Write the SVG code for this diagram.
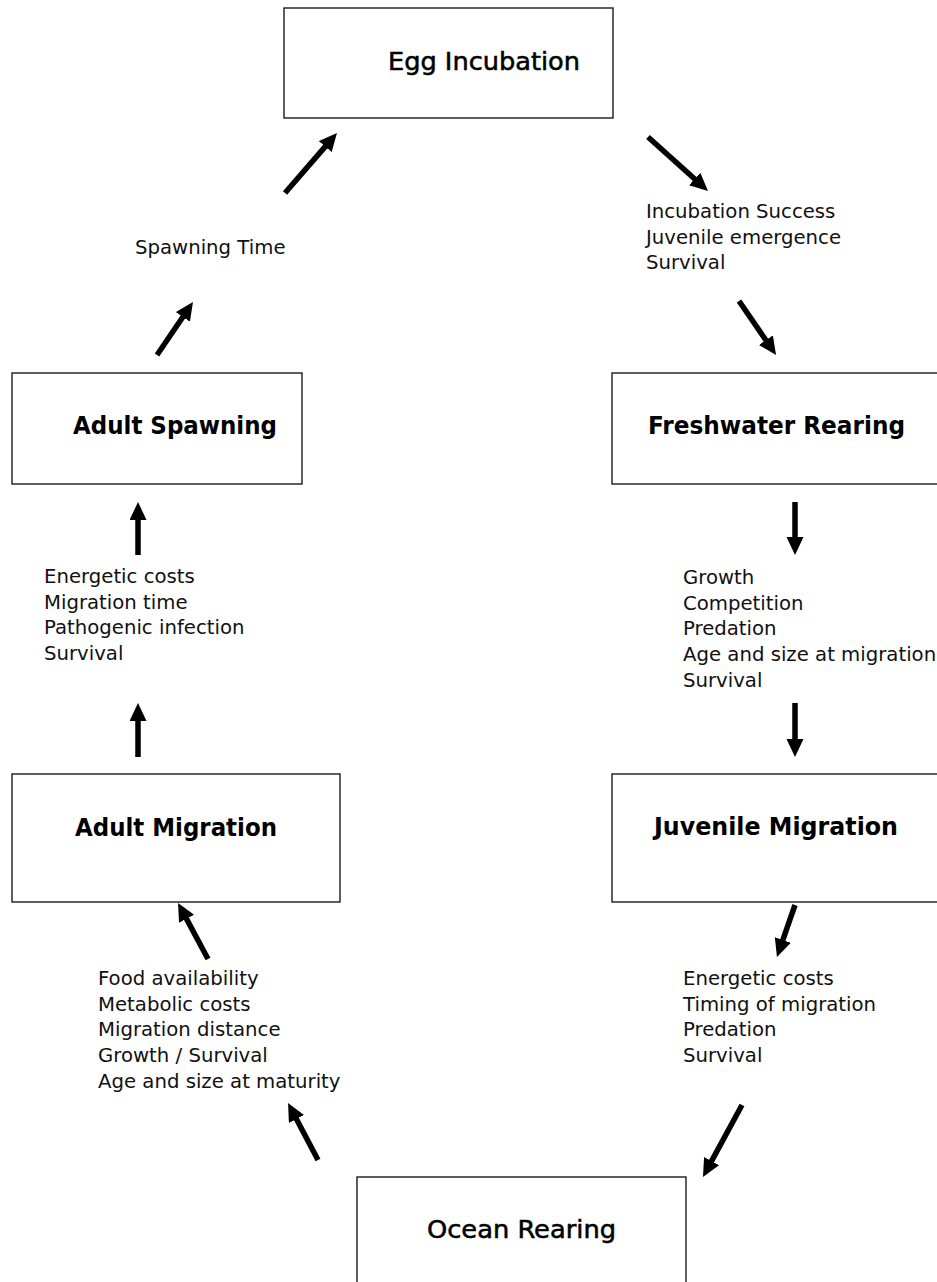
<svg xmlns="http://www.w3.org/2000/svg" width="937" height="1282" viewBox="0 0 937 1282">
<style>
.box{fill:#fff;stroke:#1a1a1a;stroke-width:1.4}
.title{font-family:"DejaVu Sans",Verdana,sans-serif;font-size:25.5px;font-weight:bold;fill:#000}
.title-light{font-family:"DejaVu Sans",Verdana,sans-serif;font-size:25.5px;font-weight:normal;fill:#000;stroke:#000;stroke-width:0.55}
.lbl{font-family:"DejaVu Sans",Verdana,sans-serif;font-size:19.7px;fill:#111}
.arr{stroke:#000;stroke-width:5.5;fill:none;marker-end:url(#head)}
</style>
<defs>
<marker id="head" markerUnits="userSpaceOnUse" markerWidth="20" markerHeight="18" refX="2" refY="8.5" orient="auto">
<path d="M0,0 L18,8.5 L0,17 z" fill="#000"/>
</marker>
</defs>
<rect width="937" height="1282" fill="#fff"/>

<g id="egg-incubation">
<rect class="box" x="284" y="8" width="329" height="110"/>
<text class="title-light" x="388" y="70" textLength="192" lengthAdjust="spacingAndGlyphs">Egg Incubation</text>
</g>
<g id="adult-spawning">
<rect class="box" x="12" y="373" width="290" height="111"/>
<text class="title" x="73" y="434" textLength="204" lengthAdjust="spacingAndGlyphs">Adult Spawning</text>
</g>
<g id="freshwater-rearing">
<rect class="box" x="612" y="373" width="340" height="111"/>
<text class="title" x="648" y="434" textLength="257" lengthAdjust="spacingAndGlyphs">Freshwater Rearing</text>
</g>
<g id="adult-migration">
<rect class="box" x="12" y="774" width="328" height="128"/>
<text class="title" x="75" y="836" textLength="202" lengthAdjust="spacingAndGlyphs">Adult Migration</text>
</g>
<g id="juvenile-migration">
<rect class="box" x="612" y="774" width="340" height="128"/>
<text class="title" x="654" y="835" textLength="244" lengthAdjust="spacingAndGlyphs">Juvenile Migration</text>
</g>
<g id="ocean-rearing">
<rect class="box" x="357" y="1177" width="329" height="120"/>
<text class="title-light" x="427" y="1238" textLength="189" lengthAdjust="spacingAndGlyphs">Ocean Rearing</text>
</g>

<g id="label-spawning-time">
<text class="lbl" x="135" y="254">Spawning Time</text>
</g>
<g id="label-incubation">
<text class="lbl" x="646" y="218">Incubation Success</text>
<text class="lbl" x="646" y="243.7">Juvenile emergence</text>
<text class="lbl" x="646" y="269.4">Survival</text>
</g>
<g id="label-adult-migration-factors">
<text class="lbl" x="44" y="583">Energetic costs</text>
<text class="lbl" x="44" y="608.7">Migration time</text>
<text class="lbl" x="44" y="634.4">Pathogenic infection</text>
<text class="lbl" x="44" y="660.1">Survival</text>
</g>
<g id="label-freshwater-factors">
<text class="lbl" x="683" y="584">Growth</text>
<text class="lbl" x="683" y="609.7">Competition</text>
<text class="lbl" x="683" y="635.4">Predation</text>
<text class="lbl" x="683" y="661.1">Age and size at migration</text>
<text class="lbl" x="683" y="686.8">Survival</text>
</g>
<g id="label-ocean-factors">
<text class="lbl" x="98" y="985">Food availability</text>
<text class="lbl" x="98" y="1010.7">Metabolic costs</text>
<text class="lbl" x="98" y="1036.4">Migration distance</text>
<text class="lbl" x="98" y="1062.1">Growth / Survival</text>
<text class="lbl" x="98" y="1087.8">Age and size at maturity</text>
</g>
<g id="label-juvenile-factors">
<text class="lbl" x="683" y="985">Energetic costs</text>
<text class="lbl" x="683" y="1010.7">Timing of migration</text>
<text class="lbl" x="683" y="1036.4">Predation</text>
<text class="lbl" x="683" y="1062.1">Survival</text>
</g>

<g id="connectors">
<line class="arr" x1="285" y1="193" x2="326.5" y2="145.1"/>
<line class="arr" x1="648" y1="137" x2="696.1" y2="180.3"/>
<line class="arr" x1="739" y1="301" x2="767" y2="341.8"/>
<line class="arr" x1="795" y1="502" x2="795" y2="539"/>
<line class="arr" x1="795" y1="703" x2="795" y2="741"/>
<line class="arr" x1="795" y1="905" x2="782.2" y2="941.9"/>
<line class="arr" x1="742" y1="1105" x2="710.6" y2="1162.9"/>
<line class="arr" x1="318" y1="1160" x2="295.5" y2="1117.2"/>
<line class="arr" x1="208" y1="959" x2="185.6" y2="917.1"/>
<line class="arr" x1="138" y1="757" x2="138" y2="719"/>
<line class="arr" x1="138" y1="555" x2="138" y2="518"/>
<line class="arr" x1="157" y1="355" x2="184" y2="315.2"/>
</g>
</svg>
